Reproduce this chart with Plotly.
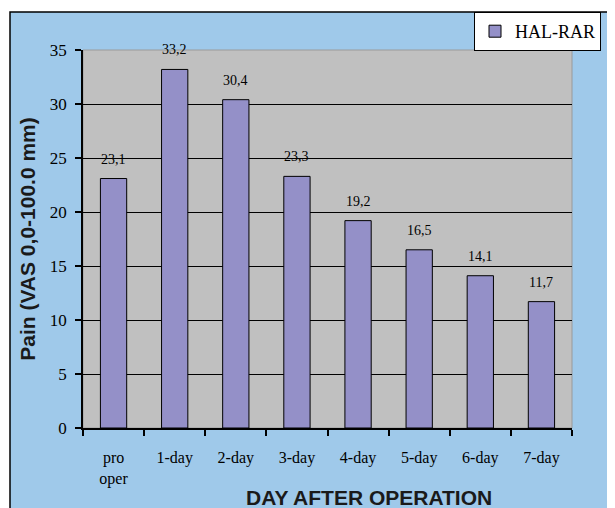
import plotly.graph_objects as go

categories = ["pro<br>oper", "1-day", "2-day", "3-day", "4-day", "5-day", "6-day", "7-day"]
values = [23.1, 33.2, 30.4, 23.3, 19.2, 16.5, 14.1, 11.7]
series_name = "HAL-RAR"
y_ticks = [0, 5, 10, 15, 20, 25, 30, 35]

OFF = 8  # page body margin
W, H = 615 - OFF, 508 - OFF
L, R, T, B = 83 - OFF, 572 - OFF, 50 - OFF, 428 - OFF

def px_x(p):
    return (p - OFF - L) / (R - L)

def px_y(p):
    return (B - (p - OFF)) / (B - T)

labels = [f"{v:.1f}".replace(".", ",") for v in values]

fig = go.Figure()
fig.add_trace(go.Bar(
    x=categories, y=values, name=series_name,
    marker=dict(color="#9490C8", line=dict(color="black", width=1)),
    width=0.43,
    showlegend=True,
))

shapes = [
    dict(type="rect", xref="paper", yref="paper", layer="below",
         x0=px_x(10), x1=px_x(630), y0=px_y(530), y1=px_y(12),
         fillcolor="#9FC9EA", line=dict(color="black", width=1.5)),
    dict(type="rect", xref="paper", yref="paper", layer="below",
         x0=0, x1=1, y0=0, y1=1,
         fillcolor="#C0C0C0", line=dict(color="#9A9A9A", width=1)),
]

annotations = [
    dict(x=c, y=v, text=t, xref="x", yref="y", showarrow=False,
         yanchor="bottom", yshift=10,
         font=dict(family="Liberation Serif", size=14, color="black"))
    for c, v, t in zip(categories, values, labels)
]
annotations.append(
    dict(text="<b>DAY AFTER OPERATION</b>", xref="paper", yref="paper",
         x=px_x(369), y=px_y(497), xanchor="center", yanchor="middle",
         showarrow=False,
         font=dict(family="Liberation Sans", size=21, color="#1a1a1a"))
)

fig.update_layout(
    width=W, height=H,
    margin=dict(l=L, r=W - R, t=T, b=H - B, pad=0, autoexpand=False),
    paper_bgcolor="white",
    plot_bgcolor="rgba(0,0,0,0)",
    shapes=shapes,
    annotations=annotations,
    bargap=0.57,
    showlegend=True,
    legend=dict(x=px_x(601), y=px_y(12), xanchor="right", yanchor="top",
                bgcolor="white", bordercolor="black", borderwidth=1,
                font=dict(family="Liberation Serif", size=18, color="black"),
                itemwidth=30, tracegroupgap=0),
    xaxis=dict(
        type="category", tickson="boundaries",
        ticks="outside", ticklen=6, tickcolor="black", tickwidth=1.5,
        showline=True, linecolor="black", linewidth=1.5,
        showgrid=False, ticklabelstandoff=14,
        tickfont=dict(family="Liberation Serif", size=16, color="black"),
    ),
    yaxis=dict(
        range=[0, 35], tickvals=y_ticks,
        ticks="outside", ticklen=6, tickcolor="black", tickwidth=1.5,
        showline=True, linecolor="black", linewidth=1.5,
        showgrid=True, gridcolor="black", gridwidth=1,
        zeroline=False, ticklabelstandoff=5,
        tickfont=dict(family="Liberation Serif", size=17, color="black"),
        title=dict(text="<b>Pain (VAS 0,0-100.0 mm)</b>", standoff=8,
                   font=dict(family="Liberation Sans", size=21, color="#1a1a1a")),
    ),
)

fig.write_html("out.html")
